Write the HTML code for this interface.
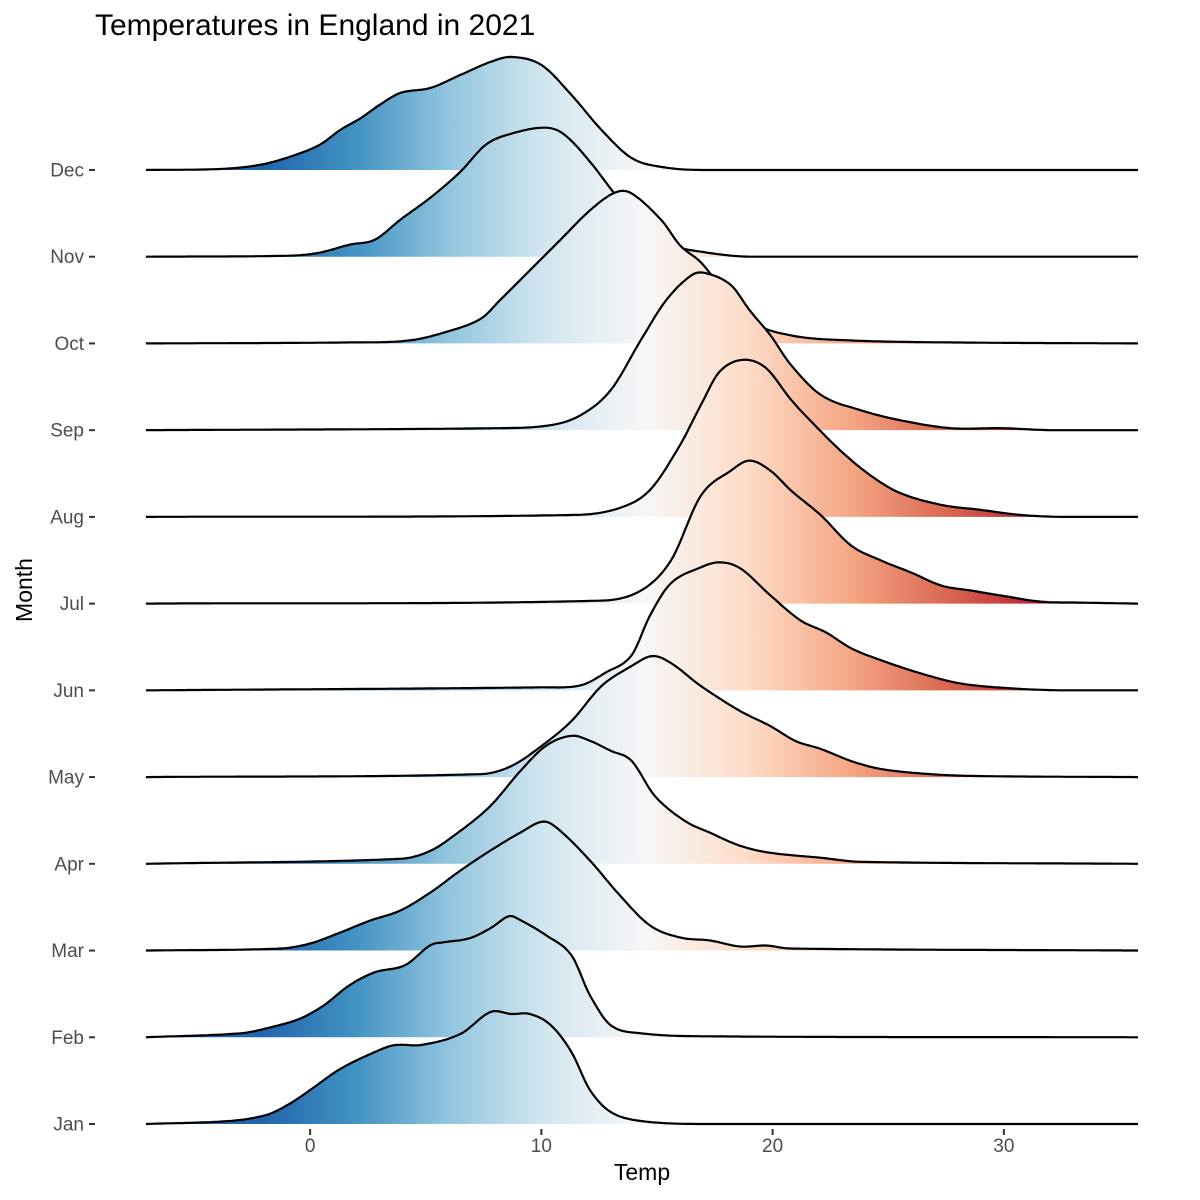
<!DOCTYPE html>
<html><head><meta charset="utf-8"><style>
html,body{margin:0;padding:0;background:#fff}
svg{display:block;font-family:"Liberation Sans",sans-serif}
</style></head><body>
<svg id="chart" width="1200" height="1200" viewBox="0 0 1200 1200">
<defs>
<linearGradient id="tempGrad" gradientUnits="userSpaceOnUse" x1="145" y1="0" x2="1138" y2="0"></linearGradient>
</defs>
<text x="95" y="35" font-size="30" fill="#000">Temperatures in England in 2021</text>
<g id="ridges"></g>
<g id="yaxis"></g>
<g id="xaxis"></g>
<text x="642" y="1180" font-size="23" text-anchor="middle" fill="#000">Temp</text>
<text x="0" y="0" font-size="23" text-anchor="middle" fill="#000" transform="translate(32,590) rotate(-90)">Month</text>
</svg>
<script>
const months = ["Jan","Feb","Mar","Apr","May","Jun","Jul","Aug","Sep","Oct","Nov","Dec"];
const xTicks = [0,10,20,30];
// temperature sample points and relative density heights per month
const janT = [-7.1,-3.5,-1.9,-0.9,0,1.3,3.0,3.7,4.8,6.5,7.8,8.7,9.5,10.4,11.3,12.1,13.0,14.3,16.9,35.8];
const janH = [0,3,9,20,34,55,74,79,79,90,112,110,110,99,72,34,12,3,0,0];
const febT = [-7.1,-3.0,-1.7,-0.4,0.6,1.7,2.8,4.1,5.2,5.8,6.9,7.8,8.6,9.1,10.2,11.3,12.1,13.0,14.3,16.9,35.8];
const febH = [0,4,10,19,32,52,65,72,92,95,99,109,121,117,102,82,42,12,4,1,0];
const marT = [-7.1,-1.3,0,1.3,2.6,3.9,5.2,6.5,7.8,9.1,10.1,10.8,12.1,13.4,14.7,16.0,17.3,18.6,19.7,20.8,35.8];
const marH = [0,2,7,18,30,40,58,80,100,118,129,120,90,55,25,13,10,4,5,2,0];
const aprT = [-7.1,3.9,5.2,6.5,7.8,9.1,10.2,11.3,12.1,13.0,13.9,14.9,16.2,17.3,18.6,19.9,22.1,23.8,35.8];
const aprH = [0,5,13,33,58,93,118,128,123,113,103,68,43,31,18,11,6,2,0];
const mayT = [-7.1,7.4,8.7,10.0,11.3,12.6,13.9,14.8,15.6,16.9,18.6,19.9,21.0,22.1,23.4,24.7,26.8,29.0,35.8];
const mayH = [0,3,11,31,56,91,111,121,114,91,66,51,36,28,16,8,3,1,0];
const junT = [-7.1,10.0,11.7,12.8,13.9,14.7,15.6,16.9,17.7,18.6,19.9,21.2,22.3,23.4,24.7,26.4,28.1,30.3,32.5,35.8];
const junH = [0,3,5,18,35,75,107,123,128,122,95,70,58,42,30,17,7,2,0,0];
const julT = [-7.1,12.6,14.3,15.6,16.9,18.2,19.0,19.9,20.8,22.1,23.4,24.7,26.0,27.3,28.6,29.9,31.6,33.3,35.8];
const julH = [0,3,13,43,108,133,143,133,113,88,58,43,31,18,13,8,2,1,0];
const augT = [-7.1,11.5,13.4,14.7,16.0,16.9,17.7,18.7,19.7,20.8,21.6,22.9,24.2,25.5,27.3,29.0,30.7,32.5,35.8];
const augH = [0,2,9,27,72,112,145,157,149,117,97,67,42,24,12,7,2,0,0];
const sepT = [-7.1,8.2,10.4,11.7,13.0,14.3,15.4,16.5,17.1,18.2,19.0,19.9,20.8,22.1,23.8,25.5,27.7,29.9,32.0,35.8];
const sepH = [0,2,5,15,40,90,130,155,157,145,120,95,65,35,20,10,2,2,0,0];
const octT = [-7.1,1.7,4.3,6.1,7.4,8.2,9.5,10.8,12.1,13.2,13.9,15.2,16.0,16.9,17.7,19.0,20.8,23.4,27.7,35.8];
const octH = [0,1,3,13,25,43,73,103,133,151,150,123,98,81,58,23,8,3,1,0];
const novT = [-7.1,-0.9,0.4,1.7,2.8,3.9,5.2,6.5,7.6,8.7,10.2,11.0,12.1,13.2,14.3,15.6,16.9,19.0,35.8];
const novH = [0,1,4,12,17,37,59,85,112,123,129,122,95,62,32,12,5,0,0];
const decT = [-7.1,-3.9,-2.2,-0.9,0.4,1.3,2.2,3.0,3.9,5.2,6.5,7.8,8.7,10.0,11.3,12.6,13.9,15.2,16.9,35.8];
const decH = [0,1,5,13,25,40,52,65,77,82,95,108,113,105,75,40,12,3,0,0];
const seriesT = [janT,febT,marT,aprT,mayT,junT,julT,augT,sepT,octT,novT,decT];
const seriesH = [janH,febH,marH,aprH,mayH,junH,julH,augH,sepH,octH,novH,decH];

const NS = "http://www.w3.org/2000/svg";
const xMin = -7.14, xMax = 35.8, px0 = 145, px1 = 1138;
function xScale(t){ return px0 + (t - xMin) / (xMax - xMin) * (px1 - px0); }
const rowBase0 = 1124, rowStep = 86.73;
function baseY(i){ return rowBase0 - i * rowStep; }
function hScale(v){ return v * rowStep / 86.7; }

const gradStops = [[-2,"#2166ac"],[2,"#4393c3"],[6,"#92c5de"],[10,"#d1e5f0"],[14.5,"#f7f7f7"],[19,"#fddbc7"],[23.5,"#f4a582"],[28,"#d6604d"],[32,"#b2182b"]];
const grad = document.getElementById("tempGrad");
gradStops.forEach(s=>{
  const st = document.createElementNS(NS,"stop");
  st.setAttribute("offset", ((xScale(s[0])-px0)/(px1-px0)).toFixed(4));
  st.setAttribute("stop-color", s[1]);
  grad.appendChild(st);
});

// smooth curve: cubic hermite with catmull-rom style tangents, sampled densely and clamped to baseline
function smoothPoints(xs, ys, base){
  const n = xs.length, m = [];
  for(let i=0;i<n;i++){
    if(i===0) m[i]=(ys[1]-ys[0])/(xs[1]-xs[0]);
    else if(i===n-1) m[i]=(ys[n-1]-ys[n-2])/(xs[n-1]-xs[n-2]);
    else m[i]=(ys[i+1]-ys[i-1])/(xs[i+1]-xs[i-1]);
  }
  const pts=[];
  for(let i=0;i<n-1;i++){
    const h=xs[i+1]-xs[i];
    const steps=Math.max(2,Math.ceil(h/3));
    for(let k=0;k<steps;k++){
      const s=k/steps, s2=s*s, s3=s2*s;
      const y=(2*s3-3*s2+1)*ys[i]+(s3-2*s2+s)*h*m[i]+(-2*s3+3*s2)*ys[i+1]+(s3-s2)*h*m[i+1];
      pts.push([xs[i]+s*h, Math.min(base,y)]);
    }
  }
  pts.push([xs[n-1],Math.min(base,ys[n-1])]);
  return pts;
}

const ridges = document.getElementById("ridges");
for(let i=months.length-1;i>=0;i--){
  const b = baseY(i);
  const xs = seriesT[i].map(xScale);
  const ys = seriesH[i].map(v=>b - hScale(v));
  const pts = smoothPoints(xs, ys, b);
  const line = "M"+pts.map(p=>p[0].toFixed(1)+","+p[1].toFixed(1)).join("L");
  const g = document.createElementNS(NS,"g");
  
  
  const area = document.createElementNS(NS,"path");
  area.setAttribute("d", line + "L"+xs[xs.length-1].toFixed(2)+","+b+"L"+xs[0].toFixed(2)+","+b+"Z");
  area.setAttribute("fill","url(#tempGrad)");
  
  
  const ln = document.createElementNS(NS,"path");
  ln.setAttribute("d", line);
  ln.setAttribute("fill","none");
  ln.setAttribute("stroke","#000");
  ln.setAttribute("stroke-width","2.2");
  ln.setAttribute("stroke-linejoin","round");
  
  
  g.appendChild(area); g.appendChild(ln);
  ridges.appendChild(g);
}

const yaxis = document.getElementById("yaxis");
months.forEach((m,i)=>{
  const y = baseY(i);
  const t = document.createElementNS(NS,"text");
  t.setAttribute("x","84"); t.setAttribute("y",(y+6.5).toFixed(1));
  t.setAttribute("text-anchor","end"); t.setAttribute("font-size","19"); t.setAttribute("fill","#4d4d4d");
  t.textContent = m;
  
  
  yaxis.appendChild(t);
  const tk = document.createElementNS(NS,"line");
  tk.setAttribute("x1","89"); tk.setAttribute("x2","95");
  tk.setAttribute("y1",y); tk.setAttribute("y2",y);
  tk.setAttribute("stroke","#333"); tk.setAttribute("stroke-width","2");
  
  
  yaxis.appendChild(tk);
});
const xaxis = document.getElementById("xaxis");
xTicks.forEach(v=>{
  const x = xScale(v);
  const tk = document.createElementNS(NS,"line");
  tk.setAttribute("x1",x); tk.setAttribute("x2",x);
  tk.setAttribute("y1","1129"); tk.setAttribute("y2","1135");
  tk.setAttribute("stroke","#333"); tk.setAttribute("stroke-width","2");
  
  
  xaxis.appendChild(tk);
  const t = document.createElementNS(NS,"text");
  t.setAttribute("x",x); t.setAttribute("y","1152");
  t.setAttribute("text-anchor","middle"); t.setAttribute("font-size","19"); t.setAttribute("fill","#4d4d4d");
  t.textContent = v;
  
  
  xaxis.appendChild(t);
});
</script>
</body></html>
